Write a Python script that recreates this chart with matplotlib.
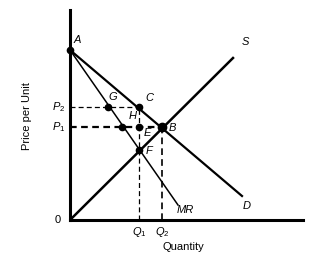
import matplotlib.pyplot as plt

plt.rcParams['font.family'] = 'Liberation Sans'
plt.rcParams['mathtext.fontset'] = 'custom'
plt.rcParams['mathtext.it'] = 'Liberation Sans:italic'
plt.rcParams['mathtext.rm'] = 'Liberation Sans'

# curves (quantity, price)
demand_x = [0, 172]
demand_y = [170, 24]
mr_x = [0, 108]
mr_y = [170, 15]
supply_x = [0, 163]
supply_y = [0, 162]

# named points
points = {
    'A': (0, 170),
    'G': (38, 113),
    'C': (69, 113),
    'H': (69, 93),
    'M': (52, 93),
    'B': (92, 93),
    'F': (69, 70),
}
p1, p2 = 93, 113
q1, q2 = 69, 92

fig = plt.figure(figsize=(3.3, 2.66), dpi=100)
ax = fig.add_axes([70 / 330, 46 / 266, 233 / 330, 210 / 266])
ax.set_xlim(0, 233)
ax.set_ylim(0, 210)
for s in ['top', 'right']:
    ax.spines[s].set_visible(False)
for s in ['left', 'bottom']:
    ax.spines[s].set_linewidth(2.2)
ax.set_xticks([])
ax.set_yticks([])

ax.plot(demand_x, demand_y, color='black', lw=1.6)
ax.plot(mr_x, mr_y, color='black', lw=1.1)
ax.plot(supply_x, supply_y, color='black', lw=1.8)

# dashed guides
ax.plot([0, points['C'][0]], [p2, p2], 'k--', lw=0.9, dashes=(4, 2.5))
ax.plot([0, points['B'][0]], [p1, p1], 'k--', lw=1.6, dashes=(3, 2))
ax.plot([q1, q1], [0, p2], 'k--', lw=0.9, dashes=(4, 2.5))
ax.plot([q2, q2], [0, p1], 'k--', lw=1.2, dashes=(4, 2.5))

for name, (x, y) in points.items():
    ms = 6 if name == 'B' else 4.5
    ax.plot(x, y, 'ko', ms=ms, clip_on=False)

fs = 8
lab = dict(fontsize=fs, style='italic', ha='left', va='center')
ax.text(4, 180, 'A', **lab)
ax.text(38, 123, 'G', **lab)
ax.text(75, 122, 'C', **lab)
ax.text(59, 104, 'H', **lab)
ax.text(74, 87, 'E', **lab)
ax.text(99, 92, 'B', **lab)
ax.text(76, 69, 'F', **lab)
ax.text(172, 178, 'S', **lab)
ax.text(173, 14, 'D', **lab)
ax.text(107, 10, 'MR', **lab)

ax.text(-5, p2, r'$P_{\mathrm{2}}$', fontsize=fs, ha='right', va='center')
ax.text(-5, p1, r'$P_{\mathrm{1}}$', fontsize=fs, ha='right', va='center')
ax.text(q1, -5, r'$Q_{\mathrm{1}}$', fontsize=fs, ha='center', va='top')
ax.text(q2, -5, r'$Q_{\mathrm{2}}$', fontsize=fs, ha='center', va='top')
ax.text(-9, 0, '0', fontsize=fs, ha='right', va='center')

ax.text(113, -27, 'Quantity', fontsize=fs, ha='center', va='center')
ax.text(-43, 104, 'Price per Unit', fontsize=fs, ha='center', va='center',
        rotation=90)

fig.savefig('out.png', dpi=100)
